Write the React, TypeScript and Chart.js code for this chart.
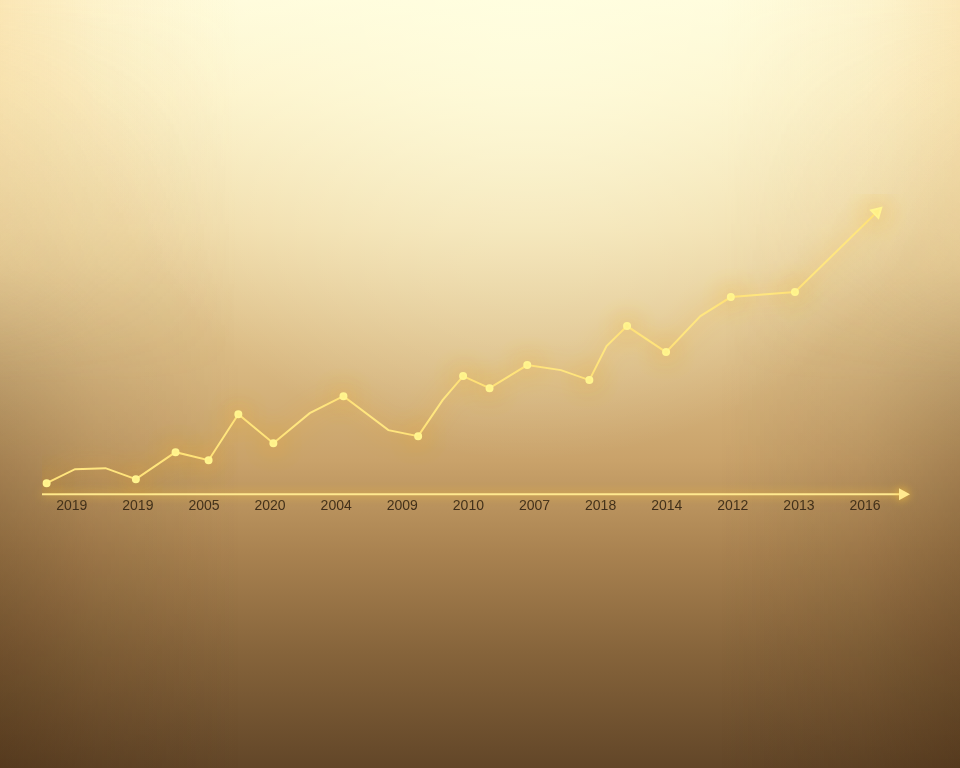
import React, { useEffect, useRef } from "react";
import { Chart, registerables } from "chart.js";

Chart.register(...registerables);

const yearLabels = ["2019", "2019", "2005", "2020", "2004", "2009", "2010", "2007", "2018", "2014", "2012", "2013", "2016"];

// line vertices: position along the year axis (in label slots) and height above the axis
const pointPositions = [-0.38, 0.05, 0.51, 0.97, 1.57, 2.07, 2.52, 3.05, 3.6, 4.11, 4.79, 5.24, 5.61, 5.92, 6.32, 6.89, 7.4, 7.83, 8.09, 8.4, 8.99, 9.51, 9.97, 10.94, 12.18];
const pointValues = [11, 25, 26, 15, 42, 34, 80, 51, 81, 98, 64, 58, 94, 118, 106, 129, 124, 114, 148, 168, 142, 178, 197, 202, 282];
const pointMarked = [1, 0, 0, 1, 1, 1, 1, 1, 0, 1, 0, 1, 0, 1, 1, 1, 0, 1, 0, 1, 1, 0, 1, 1, 2];

function sideLayer(w: number, h: number, rgb: string, alpha: number, maskStops: [number, number][]) {
  const off = document.createElement("canvas");
  off.width = w;
  off.height = h;
  const o = off.getContext("2d")!;
  const hg = o.createLinearGradient(0, 0, w, 0);
  hg.addColorStop(0, `rgba(${rgb},${alpha})`);
  hg.addColorStop(0.1, `rgba(${rgb},${alpha * 0.45})`);
  hg.addColorStop(0.25, `rgba(${rgb},0)`);
  hg.addColorStop(0.75, `rgba(${rgb},0)`);
  hg.addColorStop(0.9, `rgba(${rgb},${alpha * 0.45})`);
  hg.addColorStop(1, `rgba(${rgb},${alpha})`);
  o.fillStyle = hg;
  o.fillRect(0, 0, w, h);
  o.globalCompositeOperation = "destination-in";
  const vg = o.createLinearGradient(0, 0, 0, h);
  maskStops.forEach(([p, a]) => vg.addColorStop(p, `rgba(0,0,0,${a})`));
  o.fillStyle = vg;
  o.fillRect(0, 0, w, h);
  return off;
}

const backgroundPlugin = {
  id: "bg",
  beforeDraw(chart: any) {
    const { ctx, width, height } = chart;
    ctx.save();
    const g = ctx.createLinearGradient(0, 0, 0, height);
    g.addColorStop(0, "#fffbdb");
    g.addColorStop(0.12, "#fcf1c8");
    g.addColorStop(0.3, "#efd9a6");
    g.addColorStop(0.45, "#dcbd86");
    g.addColorStop(0.6, "#c9a26a");
    g.addColorStop(0.72, "#a98250");
    g.addColorStop(0.85, "#86643b");
    g.addColorStop(1, "#624628");
    ctx.fillStyle = g;
    ctx.fillRect(0, 0, width, height);
    ctx.drawImage(sideLayer(width, height, "55,30,8", 0.3, [[0, 0], [0.35, 0.2], [0.6, 0.8], [1, 1]]), 0, 0);
    ctx.drawImage(sideLayer(width, height, "245,200,125", 0.4, [[0, 1], [0.3, 0.4], [0.5, 0]]), 0, 0);
    const t = ctx.createRadialGradient(width * 0.55, 0, 20, width * 0.55, 0, 460);
    t.addColorStop(0, "rgba(255,255,225,0.75)");
    t.addColorStop(1, "rgba(255,255,225,0)");
    ctx.fillStyle = t;
    ctx.fillRect(0, 0, width, height);
    ctx.restore();
  },
  beforeDatasetsDraw(chart: any) {
    const { ctx, chartArea } = chart;
    const y = chartArea.bottom;
    ctx.save();
    ctx.shadowColor = "rgba(255,200,60,1)";
    ctx.shadowBlur = 10;
    ctx.strokeStyle = "#ffe98f";
    ctx.lineWidth = 2;
    ctx.beginPath();
    ctx.moveTo(chartArea.left, y);
    ctx.lineTo(chartArea.right - 6, y);
    ctx.stroke();
    ctx.fillStyle = "#ffe98f";
    ctx.beginPath();
    ctx.moveTo(chartArea.right + 2, y);
    ctx.lineTo(chartArea.right - 9, y - 6);
    ctx.lineTo(chartArea.right - 9, y + 6);
    ctx.closePath();
    ctx.fill();
    ctx.restore();
  },
  beforeDatasetDraw(chart: any) {
    const ctx = chart.ctx;
    ctx.save();
    ctx.shadowColor = "rgba(255,175,30,1)";
    ctx.shadowBlur = 24;
  },
  afterDatasetDraw(chart: any) {
    chart.ctx.restore();
  },
};

export default function App() {
  const ref = useRef<HTMLCanvasElement>(null);
  useEffect(() => {
    document.body.style.margin = "0";
    const data = pointPositions.map((x, i) => ({ x, y: pointValues[i] }));
    const chart = new Chart(ref.current!, {
      type: "line",
      data: {
        datasets: [
          {
            data,
            borderColor: "#ffe680",
            borderWidth: 2,
            pointBackgroundColor: "#fff48f",
            pointBorderColor: "#fff48f",
            pointRadius: pointMarked.map((m) => (m === 2 ? 6 : m ? 3 : 0)),
            pointStyle: pointMarked.map((m) => (m === 2 ? "triangle" : "circle")) as any,
            rotation: pointMarked.map((m) => (m === 2 ? 46 : 0)) as any,
            tension: 0,
          },
        ],
      },
      options: {
        responsive: false,
        animation: false,
        layout: { padding: { left: 42, right: 52, top: 194, bottom: 249 } },
        plugins: { legend: { display: false }, tooltip: { enabled: false } },
        scales: {
          x: {
            type: "linear",
            min: -0.45,
            max: 12.65,
            grid: { display: false, drawTicks: false },
            border: { display: false },
            afterBuildTicks: (s: any) => {
              s.ticks = yearLabels.map((_, i) => ({ value: i }));
            },
            ticks: {
              autoSkip: false,
              maxRotation: 0,
              padding: 4,
              color: "#3f2e1a",
              font: { family: "'Liberation Sans', Arial, sans-serif", size: 14 },
              callback: (v: any) => yearLabels[Math.round(Number(v))] ?? "",
            },
          },
          y: { display: false, min: 0, max: 300 },
        },
      },
      plugins: [backgroundPlugin],
    });
    return () => chart.destroy();
  }, []);
  return (
    <div style={{ width: 960, height: 768 }}>
      <canvas ref={ref} width={960} height={768} style={{ display: "block" }} />
    </div>
  );
}
